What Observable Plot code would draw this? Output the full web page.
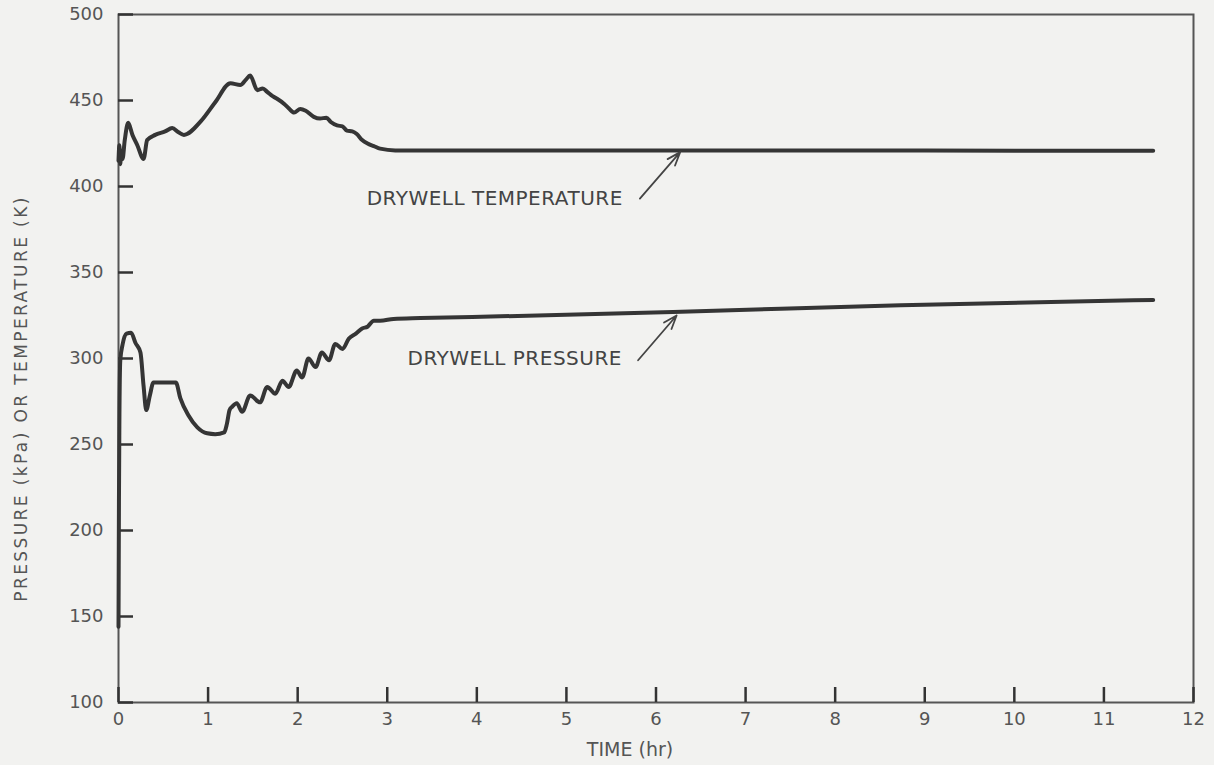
<!DOCTYPE html>
<html>
<head>
<meta charset="utf-8">
<script src="https://cdn.jsdelivr.net/npm/d3@7"></script>
<script src="https://cdn.jsdelivr.net/npm/@observablehq/plot@0.6"></script>
<style>
  html, body { margin: 0; padding: 0; background: #f2f2f0; }
</style>
</head>
<body>
<div id="chart"></div>
<script>
// ---- data ----
const xTicks = [0, 1, 2, 3, 4, 5, 6, 7, 8, 9, 10, 11, 12];
const yTicks = [100, 150, 200, 250, 300, 350, 400, 450, 500];

// Drywell temperature (K) vs time (hr)
const tempTime = [0, 0.01, 0.02, 0.03, 0.045, 0.07, 0.108, 0.156, 0.21, 0.28, 0.32, 0.41, 0.52, 0.60, 0.67, 0.73,
  0.92, 1.08, 1.25, 1.36, 1.42, 1.47, 1.55, 1.61, 1.66, 1.72, 1.77, 1.85, 1.90, 1.96, 2.03, 2.09, 2.18, 2.25,
  2.32, 2.37, 2.44, 2.50, 2.55, 2.61, 2.66, 2.72, 2.78, 2.85, 2.92, 3.09, 3.37, 4.5, 6.0, 8.0, 10.0, 11.55];
const tempK = [415, 424, 413, 421, 416, 427, 437, 430, 424, 416, 427, 430, 432, 434, 431.5, 430,
  438, 449, 460, 459, 462, 464.5, 456, 457, 455, 452.5, 451, 448, 445.5, 443, 445, 444, 440.5, 439.5,
  440, 437.5, 435.5, 435, 432.5, 432, 430.5, 427, 425, 423.5, 422, 421, 421, 421, 421, 421, 420.8, 420.8];

// Drywell pressure (kPa) vs time (hr)
const presTime = [0, 0.005, 0.01, 0.02, 0.045, 0.09, 0.14, 0.19, 0.245, 0.28, 0.31, 0.35, 0.39, 0.52, 0.64, 0.69,
  0.78, 0.88, 0.99, 1.08, 1.18, 1.21, 1.24, 1.27, 1.32, 1.38, 1.47, 1.58, 1.66, 1.75, 1.83, 1.90, 1.99, 2.05,
  2.12, 2.20, 2.27, 2.35, 2.42, 2.50, 2.57, 2.65, 2.72, 2.78, 2.85, 2.92, 3.07, 3.37, 4.26, 6.19, 8.73, 11.55];
const presKPa = [144, 217, 264, 299, 308, 314.5, 315, 309, 303.5, 284, 270, 278.5, 286, 286, 286, 277,
  267, 260, 256.5, 256, 257, 262, 270, 272, 274, 269, 278.5, 274.5, 283.5, 279.5, 287, 283.5, 293, 289,
  300, 295, 303.5, 299, 308.5, 305.5, 311.5, 314.5, 317.5, 318.5, 322, 322, 323, 323.5, 324.5, 327, 331, 334];

// Annotations
const labelText = ["DRYWELL TEMPERATURE", "DRYWELL PRESSURE"];
const labelX = [5.63, 5.62];
const labelY = [393, 300];
const arrowX1 = [5.82, 5.80];
const arrowY1 = [393, 299];
const arrowX2 = [6.27, 6.23];
const arrowY2 = [420, 325];

const xLabel = "TIME (hr)";
const yLabel = "PRESSURE (kPa) OR TEMPERATURE (K)";

// ---- build rows ----
const tempRows = tempTime.map((t, i) => ({t, v: tempK[i]}));
const presRows = presTime.map((t, i) => ({t, v: presKPa[i]}));
const labelRows = labelText.map((s, i) => ({s, x: labelX[i], y: labelY[i]}));
const arrowRows = arrowX1.map((x1, i) => ({x1, y1: arrowY1[i], x2: arrowX2[i], y2: arrowY2[i]}));

const ink = "#353535";
const grey = "#555";

const W = 1214, H = 765;
const mL = 118, mR = 21, mT = 14, mB = 63;
const tickLen = 15;
const frameW = W - mL - mR;
const frameH = H - mT - mB;

const plot = Plot.plot({
  width: W,
  height: H,
  marginLeft: mL,
  marginRight: mR,
  marginTop: mT,
  marginBottom: mB,
  style: {background: "#f2f2f0", color: grey, fontFamily: "DejaVu Sans"},
  x: {domain: [0, 12]},
  y: {domain: [100, 500]},
  marks: [
    Plot.axisX({ticks: xTicks, tickSize: 0, tickPadding: 10, fontSize: 18, label: null, tickFormat: d => String(d)}),
    Plot.axisY({ticks: yTicks, tickSize: 0, tickPadding: 15, fontSize: 18, label: null, tickFormat: d => String(d)}),
    Plot.frame({stroke: grey, strokeWidth: 2}),
    // inward ticks
    Plot.tickX(xTicks, {x: d => d, insetTop: frameH - tickLen, stroke: "#333", strokeWidth: 2.5}),
    Plot.tickY(yTicks, {y: d => d, insetRight: frameW - tickLen, stroke: "#333", strokeWidth: 2.5}),
    Plot.line(tempRows, {x: "t", y: "v", curve: "monotone-x", stroke: ink, strokeWidth: 4, strokeLinejoin: "round", strokeLinecap: "round"}),
    Plot.line(presRows, {x: "t", y: "v", curve: "monotone-x", stroke: ink, strokeWidth: 4, strokeLinejoin: "round", strokeLinecap: "round"}),
    Plot.text(labelRows, {x: "x", y: "y", text: "s", textAnchor: "end", fontSize: 20, fill: "#444"}),
    Plot.arrow(arrowRows, {x1: "x1", y1: "y1", x2: "x2", y2: "y2", stroke: "#444", strokeWidth: 1.8, headLength: 12, headAngle: 40}),
    Plot.text([xLabel], {frameAnchor: "bottom", dy: 53, dx: -26, fontSize: 19, fill: grey}),
    Plot.text([yLabel], {frameAnchor: "left", textAnchor: "middle", lineAnchor: "middle", rotate: -90, dx: -97, dy: 40, fontSize: 17, fill: grey})
  ]
});

d3.select(plot).selectAll("text")
  .filter(function () { return this.textContent === yLabel; })
  .style("letter-spacing", "2.4px");
d3.select(plot).selectAll("text")
  .filter(function () { return labelText.includes(this.textContent); })
  .style("letter-spacing", "0.5px");

document.getElementById("chart").appendChild(plot);
</script>
</body>
</html>
